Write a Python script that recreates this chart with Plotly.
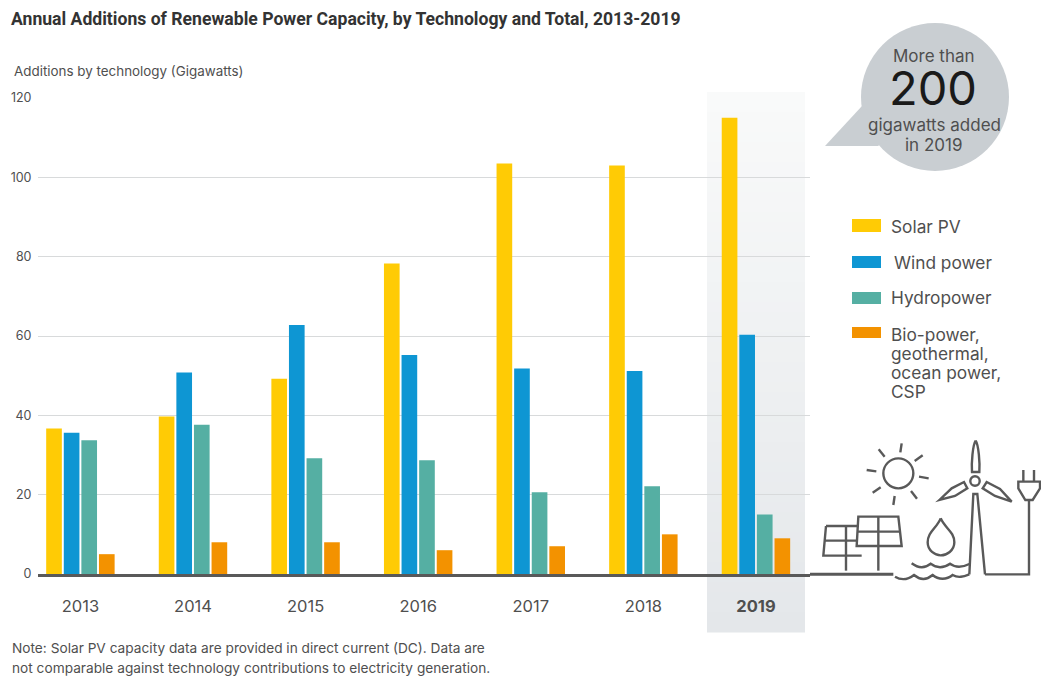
import plotly.graph_objects as go

W, H = 1041, 677
years = ["2013", "2014", "2015", "2016", "2017", "2018", "2019"]
year_labels = ["2013", "2014", "2015", "2016", "2017", "2018", "<b>2019</b>"]
solar = [36.7, 39.7, 49.2, 78.3, 103.5, 103, 115]
wind = [35.6, 50.8, 62.8, 55.2, 51.8, 51.2, 60.3]
hydro = [33.7, 37.6, 29.2, 28.7, 20.6, 22.1, 15]
bio = [5, 8, 8, 6, 7, 10, 9]
y_ticks = [0, 20, 40, 60, 80, 100, 120]
series = [("Solar PV", solar, "#FFCB05"), ("Wind power", wind, "#0E96D3"),
          ("Hydropower", hydro, "#55AFA3"),
          ("Bio-power, geothermal, ocean power, CSP", bio, "#F39200")]
FONT = "Inter"
TXT = "#4f4f4f"
ICON = "#595959"

def fx(x): return x / W
def fy(y): return 1 - y / H

fig = go.Figure()
for name, vals, col in series:
    fig.add_bar(x=years, y=vals, name=name, marker=dict(color=col, line_width=0), showlegend=False)

shapes, ann = [], []

def rect(x0, y0, x1, y1, col, layer="below"):
    shapes.append(dict(type="rect", xref="paper", yref="paper", x0=fx(x0), x1=fx(x1),
                       y0=fy(y1), y1=fy(y0), fillcolor=col, line_width=0, layer=layer))

def path(points, close=False, fill=None, width=2.4, col=ICON):
    d = "M" + " L".join(f"{fx(x):.5f},{fy(y):.5f}" for x, y in points) + (" Z" if close else "")
    shapes.append(dict(type="path", xref="paper", yref="paper", path=d, layer="above",
                       fillcolor=fill if fill else "rgba(0,0,0,0)",
                       line=dict(color=col, width=width) if width else dict(width=0)))

def curve(d, width=2.4, col=ICON, fill=None):
    s = ""
    for cmd, pts in d:
        s += cmd + " ".join(f"{fx(x):.5f},{fy(y):.5f}" for x, y in pts) + " "
    shapes.append(dict(type="path", xref="paper", yref="paper", path=s + "", layer="above",
                       fillcolor=fill if fill else "rgba(0,0,0,0)", line=dict(color=col, width=width)))

def circle(cx, cy, r, col=None, width=2.4, line=ICON):
    shapes.append(dict(type="circle", xref="paper", yref="paper", x0=fx(cx - r), x1=fx(cx + r),
                       y0=fy(cy + r), y1=fy(cy - r), layer="above",
                       fillcolor=col if col else "rgba(0,0,0,0)",
                       line=dict(color=line, width=width) if width else dict(width=0)))

def text(x, y, s, size=13, col=TXT, anchor="left", family=FONT, height=None):
    a = dict(xref="paper", yref="paper", x=fx(x), y=fy(y), text=s, showarrow=False,
             xanchor=anchor, yanchor="middle", align=anchor, borderpad=0,
             font=dict(size=size, color=col, family=family))
    if height:
        a["height"] = height
    ann.append(a)

# 2019 highlight band: vertical fade from near white to pale grey
STRIPS = 54
for i in range(STRIPS):
    t = i / (STRIPS - 1)
    c = tuple(round(a + (b - a) * t) for a, b in zip((249, 250, 250), (228, 231, 234)))
    rect(707, 92 + i * 10, 805, 92 + (i + 1) * 10 + 0.5, f"rgb{c}")

# Callout bubble
circle(935, 97, 74, col="#C9CED2", width=0)
path([(862, 106), (825, 146), (878, 146), (900, 130)], close=True, fill="#C9CED2", width=0)
text(934, 56, "More than", 17, anchor="center")
text(933, 87, "200", 47, col="#1a1a1a", anchor="center", height=44)
text(934, 125, "gigawatts added", 17, anchor="center")
text(934, 145, "in 2019", 17, anchor="center")

# Legend
leg = [(219, 232, "Solar PV", 226, 890, 0), (256, 268, "Wind power", 262, 893, 1),
       (292, 304, "Hydropower", 298, 890, 2)]
for y0, y1, s, ty, tx, i in leg:
    rect(852, y0, 881, y1, series[i][2], layer="above")
    text(tx, ty, s, 17.3)
rect(852, 327, 881, 338, series[3][2], layer="above")
for ty, s in zip([334, 353, 372, 391], ["Bio-power,", "geothermal,", "ocean power,", "CSP"]):
    text(890, ty, s, 17.3)

# Titles and note
text(10, 19, "<b>Annual Additions of Renewable Power Capacity, by Technology and Total, 2013-2019</b>",
     17.6, col="#333333", family="Roboto")
text(13, 71, "Additions by technology (Gigawatts)", 13.4)
text(11, 648, "Note: Solar PV capacity data are provided in direct current (DC). Data are", 13.7)
text(11, 668, "not comparable against technology contributions to electricity generation.", 13.7)

# Icon artwork, traced in zoomed-crop pixels
def Z(x, y): return (810 + x / 3, 420 + y / 3)
def zp(pts, **kw): path([Z(*p) for p in pts], **kw)

zp([(0, 463), (250, 463)], width=3)
zp([(48, 318), (145, 318)]); zp([(48, 318), (40, 407), (155, 407)])
zp([(44, 362), (140, 362)]); zp([(108, 318), (108, 452)])
zp([(145, 290), (265, 290), (275, 378), (140, 378)], close=True)
zp([(142, 335), (270, 335)]); zp([(205, 290), (205, 452)])
# sun
cx, cy = Z(265, 160); circle(cx, cy, 15)
for a, b in [((275, 70), (271, 97)), ((206, 88), (224, 110)), ((170, 150), (199, 154)),
             ((188, 218), (212, 202)), ((250, 255), (254, 228)), ((321, 236), (303, 213)),
             ((356, 175), (327, 170)), ((338, 106), (314, 123))]:
    zp([a, b])
# drop
curve([("M", [Z(392, 295)]), ("C", [Z(380, 325), Z(353, 335), Z(353, 367)]),
       ("C", [Z(353, 392), Z(375, 406), Z(392, 406)]), ("C", [Z(410, 406), Z(433, 392), Z(433, 367)]),
       ("C", [Z(433, 335), Z(405, 325), Z(392, 295)])])
# waves
curve([("M", [Z(305, 430)]), ("C", [Z(325, 445), Z(345, 445), Z(362, 431)]),
       ("C", [Z(380, 445), Z(400, 445), Z(420, 431)]), ("C", [Z(438, 445), Z(458, 442), Z(478, 432)])])
curve([("M", [Z(255, 470)]), ("C", [Z(275, 482), Z(295, 478), Z(312, 465)]),
       ("C", [Z(330, 480), Z(350, 480), Z(368, 465)]), ("C", [Z(385, 480), Z(410, 480), Z(428, 465)]),
       ("C", [Z(445, 475), Z(460, 470), Z(478, 463)])])
# turbine
zp([(478, 463), (490, 222), (502, 222), (525, 463)])
cx, cy = Z(495, 183); circle(cx, cy, 4.7)
curve([("M", [Z(497, 62)]), ("C", [Z(488, 75), Z(484, 130), Z(486, 156)]), ("L", [Z(508, 156)]),
       ("C", [Z(510, 130), Z(506, 75), Z(497, 62)])])
zp([(388, 240), (425, 205), (462, 186), (472, 205), (435, 228)], close=True)
zp([(605, 245), (570, 207), (530, 186), (518, 205), (555, 228)], close=True)
# cord and plug
zp([(525, 463), (657, 463), (657, 240)])
zp([(625, 185), (690, 185), (690, 205), (668, 240), (646, 240), (625, 205)], close=True)
zp([(640, 150), (640, 185)]); zp([(672, 150), (672, 185)])

fig.update_layout(
    autosize=False,
    width=W, height=H, margin=dict(l=0, r=0, t=0, b=0, pad=0), paper_bgcolor="white", plot_bgcolor="rgba(0,0,0,0)",
    barmode="group", bargap=0.375, bargroupgap=0.11, shapes=shapes, annotations=ann,
    font=dict(family=FONT, color=TXT, size=14),
    xaxis=dict(domain=[fx(38), fx(810)], type="category", range=[-0.3766, 6.48], tickmode="array",
               tickvals=years, ticktext=year_labels, ticks="outside", ticklen=15, automargin=False,
               tickcolor="rgba(0,0,0,0)", showgrid=False, showline=True, linecolor="#595959", linewidth=3,
               tickfont=dict(size=16.5, color=TXT)),
    yaxis=dict(domain=[fy(574), fy(98)], range=[0, 120], tickmode="array", tickvals=y_ticks, automargin=False,
               ticks="outside", ticklen=3, tickcolor="rgba(0,0,0,0)", showgrid=True, gridcolor="#D8DADB",
               gridwidth=1.2, zeroline=False, tickfont=dict(size=12.5, color=TXT)),
)
fig.write_html("out.html", config={"displayModeBar": False}, post_script="document.body.style.margin='0';")
